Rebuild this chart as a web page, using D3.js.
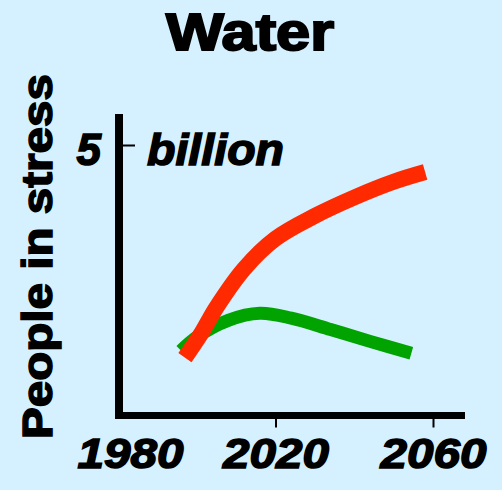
<!DOCTYPE html>
<html><head><meta charset="utf-8">
<script src="https://cdn.jsdelivr.net/npm/d3@7"></script>
<style>
html,body{margin:0;padding:0;background:#d5f0fe;}
svg{display:block;}
text{font-family:"Liberation Sans",Arial,sans-serif;font-weight:bold;fill:#000;}
</style></head>
<body>
<script>
const title = "Water";
const yLabel = "People in stress";
const unitLabel = "billion";
const xTicks = [1980, 2020, 2060];
const yTicks = [5];
const redSeries = [[1997,1.07],[2001,1.50],[2005,2.0],[2012,2.71],[2020,3.27],[2030,3.69],[2040,4.03],[2050,4.32],[2058,4.50]];
const greenSeries = [[1996,1.20],[2000,1.45],[2008,1.76],[2016,1.89],[2024,1.80],[2034,1.59],[2044,1.37],[2054.5,1.15]];

const W = 502, H = 490;
const svg = d3.select("body").append("svg").attr("width", W).attr("height", H);
svg.append("rect").attr("width", W).attr("height", H).attr("fill", "#d5f0fe");

const x = d3.scaleLinear().domain([1980, 2060]).range([118, 433]);
const y = d3.scaleLinear().domain([0, 5]).range([415.5, 145]);

// title
svg.append("text").attr("x", 250).attr("y", 50).attr("text-anchor", "middle")
  .attr("font-size", 51).attr("textLength", 168).attr("lengthAdjust", "spacingAndGlyphs")
  .attr("stroke", "#000").attr("stroke-width", 2).text(title);

// y label
svg.append("text").attr("transform", "translate(52,256.5) rotate(-90)").attr("text-anchor", "middle")
  .attr("font-size", 42).attr("textLength", 365).attr("lengthAdjust", "spacingAndGlyphs")
  .attr("stroke", "#000").attr("stroke-width", 1.5).text(yLabel);

// lines
const line = d3.line().x(d => x(d[0])).y(d => y(d[1])).curve(d3.curveCatmullRom.alpha(0.5));
svg.append("path").datum(greenSeries).attr("d", line).attr("fill", "none")
  .attr("stroke", "#00a300").attr("stroke-width", 13).attr("stroke-linecap", "butt");
svg.append("path").datum(redSeries).attr("d", line).attr("fill", "none")
  .attr("stroke", "#ff2a00").attr("stroke-width", 16).attr("stroke-linecap", "butt");

// x axis
const xAxis = d3.axisBottom(x).tickValues(xTicks).tickSize(12).tickPadding(22).tickFormat(d3.format("d"));
const gx = svg.append("g").attr("transform", `translate(0,${y(0)})`).call(xAxis);
gx.select(".domain").remove();
gx.selectAll(".tick line").attr("stroke", "#000").attr("stroke-width", 2);
gx.selectAll(".tick").filter(d => d === 1980).select("line").remove();
gx.selectAll(".tick text").attr("font-size", 43).attr("font-style", "italic")
  .attr("font-family", "Liberation Sans, Arial, sans-serif").attr("font-weight", "bold")
  .attr("dy", "0.71em").attr("y", 22)
  .attr("textLength", 106).attr("lengthAdjust", "spacingAndGlyphs")
  .attr("stroke", "#000").attr("stroke-width", 1.5)
  .attr("dx", d => d === 1980 ? 12 : 0);

// y axis
const yAxis = d3.axisRight(y).tickValues(yTicks).tickSize(16).tickFormat("");
const gy = svg.append("g").attr("transform", `translate(119,0)`).call(yAxis);
gy.select(".domain").remove();
gy.selectAll(".tick line").attr("stroke", "#000").attr("stroke-width", 2);

svg.append("text").attr("x", 101).attr("y", y(5) + 20).attr("text-anchor", "end")
  .attr("font-size", 44).attr("font-style", "italic").attr("stroke", "#000").attr("stroke-width", 1.5)
  .text(d3.format("d")(yTicks[0]));
svg.append("text").attr("x", 147).attr("y", y(5) + 20)
  .attr("font-size", 44).attr("font-style", "italic").attr("textLength", 137).attr("lengthAdjust", "spacingAndGlyphs")
  .attr("stroke", "#000").attr("stroke-width", 1.5).text(unitLabel);

// axis lines
svg.append("line").attr("x1", 119).attr("x2", 119).attr("y1", 114).attr("y2", y(0) + 3.5)
  .attr("stroke", "#000").attr("stroke-width", 8);
svg.append("line").attr("x1", 115).attr("x2", 465).attr("y1", y(0)).attr("y2", y(0))
  .attr("stroke", "#000").attr("stroke-width", 7);
</script>
</body></html>
